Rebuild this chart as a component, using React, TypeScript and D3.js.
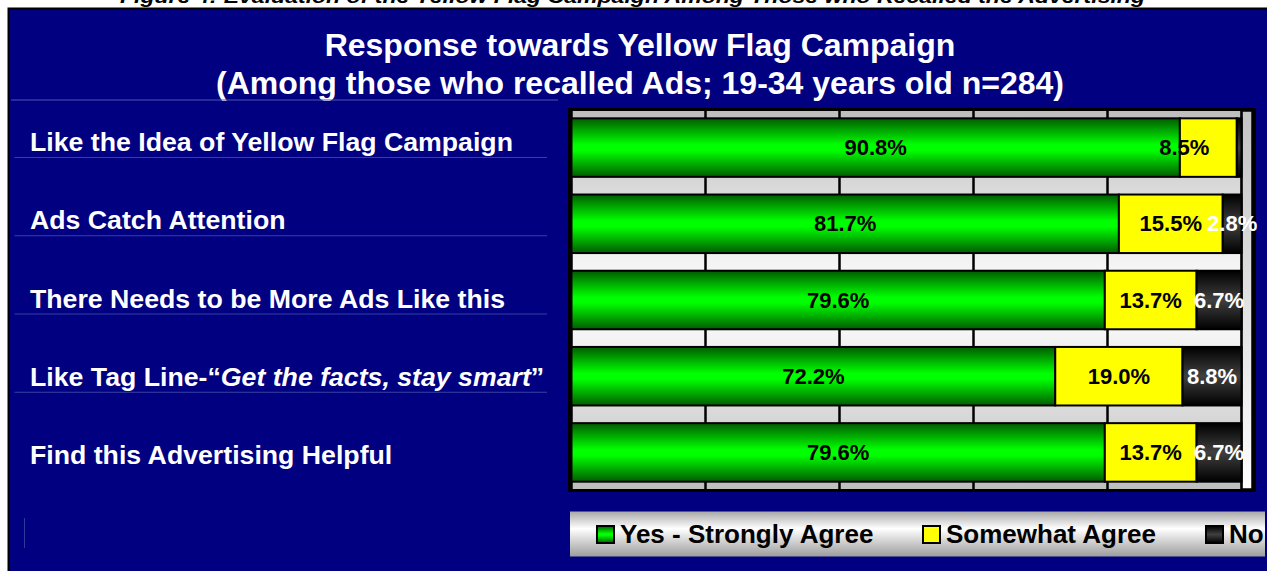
import React from "react";
import * as d3 from "d3";

const categories = [
  "Like the Idea of Yellow Flag Campaign",
  "Ads Catch Attention",
  "There Needs to be More Ads Like this",
  "Like Tag Line-“Get the facts, stay smart”",
  "Find this Advertising Helpful",
];
const seriesNames = ["Yes - Strongly Agree", "Somewhat Agree", "No"];
const yesValues = [90.8, 81.7, 79.6, 72.2, 79.6];
const somewhatValues = [8.5, 15.5, 13.7, 19.0, 13.7];
const noValues = [0.7, 2.8, 6.7, 8.8, 6.7];
const xTicks = [0, 20, 40, 60, 80, 100];

const captionText =
  "Figure 4: Evaluation of the Yellow Flag Campaign Among Those who Recalled the Advertising";
const titleLines = [
  "Response towards Yellow Flag Campaign",
  "(Among those who recalled Ads; 19-34 years old n=284)",
];

const W = 1267;
const H = 571;
const FONT = "'Liberation Sans', Arial, Helvetica, sans-serif";
const NAVY = "#000080";
const seriesFill = ["url(#gGreen)", "#ffff00", "url(#gBlack)"];
const labelColor = ["#000", "#000", "#fff"];
const labelNudge: Record<string, number> = { "0|1": -24 };

function CategoryLabel({ text, x, y }: { text: string; x: number; y: number }) {
  const i = text.indexOf("“");
  const j = text.indexOf("”");
  if (i >= 0 && j > i) {
    return (
      <text x={x} y={y} fill="#fff" fontFamily={FONT} fontWeight="bold" fontSize={26.7}>
        <tspan>{text.slice(0, i + 1)}</tspan>
        <tspan fontStyle="italic">{text.slice(i + 1, j)}</tspan>
        <tspan>{text.slice(j)}</tspan>
      </text>
    );
  }
  return (
    <text x={x} y={y} fill="#fff" fontFamily={FONT} fontWeight="bold" fontSize={26.7}>
      {text}
    </text>
  );
}

export default function App() {
  const rows = categories.map((c, i) => ({
    cat: c,
    s0: yesValues[i],
    s1: somewhatValues[i],
    s2: noValues[i],
  }));
  const stack = d3.stack<any>().keys(["s0", "s1", "s2"]);
  const series = stack(rows);

  const x = d3.scaleLinear().domain([0, 100]).range([571.5, 1241.5]);
  const y = d3
    .scaleBand<string>()
    .domain(categories)
    .range([111, 489])
    .paddingInner(0.232)
    .paddingOuter(0.096);
  const yLabel = d3.scalePoint<string>().domain(categories).range([151, 464]);

  const plotTop = 111;
  const plotBottom = 489;

  return (
    <svg
      width={W}
      height={H}
      style={{ position: "absolute", left: 0, top: 0, display: "block" }}
    >
      <defs>
        <linearGradient id="gGreen" x1="0" y1="0" x2="0" y2="1">
          <stop offset="0" stopColor="#005c00" />
          <stop offset="0.45" stopColor="#00ff00" />
          <stop offset="0.55" stopColor="#00ff00" />
          <stop offset="1" stopColor="#005c00" />
        </linearGradient>
        <linearGradient id="gBlack" x1="0" y1="0" x2="0" y2="1">
          <stop offset="0" stopColor="#000" />
          <stop offset="0.5" stopColor="#404040" />
          <stop offset="1" stopColor="#000" />
        </linearGradient>
        <linearGradient id="gPlot" x1="0" y1="0" x2="0" y2="1">
          <stop offset="0" stopColor="#bebebe" />
          <stop offset="0.45" stopColor="#fafafa" />
          <stop offset="0.55" stopColor="#fafafa" />
          <stop offset="1" stopColor="#bebebe" />
        </linearGradient>
        <linearGradient id="gWall" x1="0" y1="0" x2="0" y2="1">
          <stop offset="0" stopColor="#c4c4c4" />
          <stop offset="1" stopColor="#fdfdfd" />
        </linearGradient>
        <linearGradient id="gLegend" x1="0" y1="0" x2="0" y2="1">
          <stop offset="0" stopColor="#a8a8a8" />
          <stop offset="0.38" stopColor="#ffffff" />
          <stop offset="1" stopColor="#9c9c9c" />
        </linearGradient>
      </defs>

      <rect x={0} y={0} width={W} height={H} fill="#fff" />
      <text
        x={120}
        y={3}
        fontFamily={FONT}
        fontWeight="bold"
        fontStyle="italic"
        fontSize={19}
        textLength={1025}
        lengthAdjust="spacingAndGlyphs"
        fill="#000"
      >
        {captionText}
      </text>

      <rect x={8.5} y={8.5} width={W} height={H} fill={NAVY} stroke="#000" strokeWidth={2} />

      {titleLines.map((t, i) => (
        <text
          key={i}
          x={640}
          y={56 + i * 38}
          textAnchor="middle"
          fill="#fff"
          fontFamily={FONT}
          fontWeight="bold"
          fontSize={32}
        >
          {t}
        </text>
      ))}

      <line x1={11} x2={558} y1={100} y2={100} stroke="#4a58b0" strokeWidth={1} />
      <line x1={24.5} x2={24.5} y1={518} y2={548} stroke="#2a3a9a" strokeWidth={1} />

      {categories.map((c, i) => (
        <g key={c}>
          <CategoryLabel text={c} x={30} y={yLabel(c)!} />
          {i < categories.length - 1 && (
            <line
              x1={14.5}
              x2={547}
              y1={yLabel(c)! + 6.5}
              y2={yLabel(c)! + 6.5}
              stroke="#34429f"
              strokeWidth={1}
            />
          )}
        </g>
      ))}

      {/* plot frame */}
      <rect x={568} y={108} width={688} height={384} fill="#000" />
      <rect x={x(0)} y={plotTop} width={x(100) - x(0)} height={plotBottom - plotTop} fill="url(#gPlot)" />
      <rect x={x(100)} y={plotTop} width={10.5} height={plotBottom - plotTop} fill="url(#gWall)" stroke="#000" strokeWidth={1.5} />

      {xTicks.map((t) => (
        <line key={t} x1={x(t)} x2={x(t)} y1={plotTop} y2={plotBottom} stroke="#000" strokeWidth={2.5} />
      ))}

      {series.map((s, si) => (
        <g key={si}>
          {s.map((d: any, i: number) => (
            <rect
              key={i}
              x={x(d[0])}
              y={y(categories[i])!}
              width={x(d[1]) - x(d[0])}
              height={y.bandwidth()}
              fill={seriesFill[si]}
              stroke="#000"
              strokeWidth={2}
            />
          ))}
        </g>
      ))}

      {series.map((s, si) => (
        <g key={"l" + si}>
          {s.map((d: any, i: number) => {
            const v = d[1] - d[0];
            if (v < 1) return null;
            const cx = (x(d[0]) + x(d[1])) / 2 + (labelNudge[`${i}|${si}`] || 0);
            return (
              <text
                key={i}
                x={cx}
                y={y(categories[i])! + y.bandwidth() / 2}
                dy="0.35em"
                textAnchor="middle"
                fill={labelColor[si]}
                fontFamily={FONT}
                fontWeight="bold"
                fontSize={22}
              >
                {v.toFixed(1)}%
              </text>
            );
          })}
        </g>
      ))}

      {/* legend */}
      <rect x={570} y={511.5} width={695} height={45} fill="url(#gLegend)" />
      {seriesNames.map((n, i) => {
        const lx = [597, 923, 1206][i];
        return (
          <g key={n}>
            <rect x={lx} y={526} width={17} height={17} fill={seriesFill[i]} stroke="#000" strokeWidth={2} />
            <text x={lx + 23} y={543} fill="#000" fontFamily={FONT} fontWeight="bold" fontSize={26}>
              {n}
            </text>
          </g>
        );
      })}
    </svg>
  );
}
